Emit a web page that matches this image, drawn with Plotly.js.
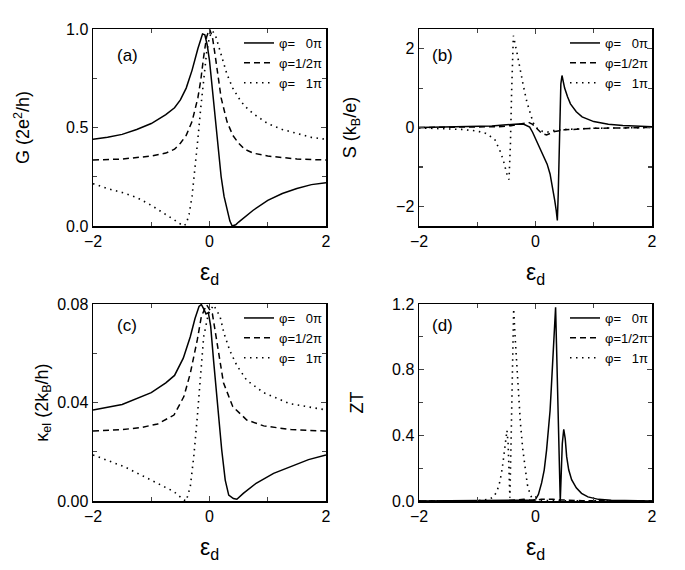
<!DOCTYPE html>
<html>
<head>
<meta charset="utf-8">
<script src="https://cdn.plot.ly/plotly-3.0.1.min.js"></script>
<style>
  body { margin: 0; background: #fff; }
  #chart { width: 685px; height: 570px; }
</style>
</head>
<body>
<div id="chart"></div>
<script>
// (a) conductance G
var gX0 = [-2, -1.75, -1.5, -1.25, -1, -0.75, -0.6, -0.5, -0.4, -0.3, -0.2, -0.15, -0.12, -0.08, -0.04, 0, 0.04, 0.08, 0.12, 0.16, 0.2, 0.25, 0.3, 0.35, 0.39, 0.45, 0.5, 0.6, 0.75, 1, 1.25, 1.5, 1.75, 2];
var gY0 = [0.44, 0.45, 0.465, 0.49, 0.52, 0.565, 0.60, 0.64, 0.70, 0.79, 0.90, 0.95, 0.975, 0.97, 0.92, 0.84, 0.72, 0.58, 0.46, 0.35, 0.25, 0.15, 0.08, 0.025, 0.0, 0.006, 0.02, 0.045, 0.08, 0.13, 0.165, 0.19, 0.21, 0.22];
var gX1 = [-2, -1.5, -1, -0.75, -0.6, -0.5, -0.4, -0.3, -0.2, -0.15, -0.1, -0.05, 0, 0.05, 0.1, 0.15, 0.2, 0.3, 0.4, 0.5, 0.6, 0.75, 1, 1.5, 2];
var gY1 = [0.335, 0.34, 0.355, 0.37, 0.39, 0.42, 0.46, 0.53, 0.65, 0.74, 0.86, 0.96, 1.0, 0.96, 0.86, 0.74, 0.65, 0.53, 0.46, 0.42, 0.39, 0.37, 0.355, 0.34, 0.335];
var gX2 = [-2, -1.75, -1.5, -1.25, -1, -0.75, -0.6, -0.5, -0.45, -0.4, -0.35, -0.3, -0.25, -0.2, -0.15, -0.1, -0.05, 0, 0.05, 0.1, 0.15, 0.2, 0.3, 0.4, 0.5, 0.6, 0.75, 1, 1.25, 1.5, 1.75, 2];
var gY2 = [0.215, 0.19, 0.17, 0.145, 0.105, 0.06, 0.03, 0.01, 0.0, 0.01, 0.06, 0.15, 0.28, 0.44, 0.6, 0.75, 0.88, 0.96, 0.99, 0.97, 0.92, 0.86, 0.77, 0.70, 0.65, 0.61, 0.57, 0.52, 0.49, 0.47, 0.45, 0.44];

// (b) thermopower S
var sX0 = [-2, -1.5, -1, -0.75, -0.5, -0.4, -0.3, -0.2, -0.1, -0.05, 0, 0.05, 0.1, 0.15, 0.2, 0.25, 0.3, 0.33, 0.355, 0.375, 0.39, 0.405, 0.42, 0.435, 0.455, 0.47, 0.5, 0.55, 0.6, 0.7, 0.8, 1, 1.25, 1.5, 2];
var sY0 = [0.0, 0.01, 0.02, 0.04, 0.07, 0.08, 0.09, 0.08, 0.01, -0.12, -0.28, -0.43, -0.58, -0.75, -0.93, -1.18, -1.55, -1.85, -2.1, -2.36, -1.7, -0.6, 0.4, 1.1, 1.32, 1.22, 1.0, 0.78, 0.6, 0.4, 0.27, 0.15, 0.08, 0.05, 0.02];
var sX1 = [-2, -1, -0.64, -0.4, -0.3, -0.2, -0.12, -0.05, 0, 0.05, 0.1, 0.19, 0.25, 0.33, 0.5, 0.75, 1, 1.5, 2];
var sY1 = [0.0, 0.01, 0.02, 0.05, 0.08, 0.11, 0.13, 0.08, 0.0, -0.08, -0.14, -0.19, -0.16, -0.1, -0.06, -0.04, -0.02, -0.01, 0.0];
var sX2 = [-2, -1.5, -1.25, -1, -0.85, -0.7, -0.61, -0.55, -0.51, -0.48, -0.455, -0.43, -0.41, -0.395, -0.38, -0.32, -0.27, -0.21, -0.15, -0.09, -0.04, 0, 0.05, 0.1, 0.2, 0.3, 0.5, 1, 2];
var sY2 = [-0.01, -0.03, -0.05, -0.09, -0.15, -0.3, -0.59, -0.84, -1.09, -1.25, -1.32, -0.4, 0.9, 1.8, 2.33, 1.91, 1.49, 1.07, 0.66, 0.33, 0.12, 0.02, -0.05, -0.09, -0.12, -0.08, -0.05, -0.02, 0.0];

// (c) thermal conductance kappa_el
var kX0 = [-2, -1.5, -1, -0.75, -0.6, -0.45, -0.33, -0.25, -0.18, -0.14, -0.1, -0.06, -0.02, 0.02, 0.07, 0.13, 0.21, 0.27, 0.33, 0.41, 0.47, 0.58, 0.8, 1.1, 1.4, 1.7, 2];
var kY0 = [0.037, 0.0392, 0.044, 0.048, 0.051, 0.058, 0.0667, 0.074, 0.079, 0.0798, 0.078, 0.076, 0.0765, 0.071, 0.057, 0.041, 0.0207, 0.0085, 0.0024, 0.001, 0.0007, 0.0031, 0.0072, 0.0112, 0.014, 0.0168, 0.0187];
var kX1 = [-2, -1.5, -1.18, -0.89, -0.61, -0.44, -0.33, -0.21, -0.14, -0.05, 0.05, 0.13, 0.24, 0.4, 0.64, 0.93, 1.4, 2];
var kY1 = [0.0284, 0.029, 0.0298, 0.0313, 0.0349, 0.0424, 0.0518, 0.0654, 0.0749, 0.0797, 0.076, 0.064, 0.048, 0.0383, 0.0329, 0.0305, 0.029, 0.0284];
var kX2 = [-2, -1.46, -1.18, -0.89, -0.61, -0.44, -0.4, -0.33, -0.27, -0.21, -0.15, -0.1, -0.02, 0.07, 0.18, 0.25, 0.35, 0.47, 0.64, 0.93, 1.38, 2];
var kY2 = [0.0187, 0.0139, 0.0106, 0.0072, 0.0038, 0.0004, 0.0, 0.0058, 0.018, 0.034, 0.052, 0.0667, 0.076, 0.0796, 0.075, 0.068, 0.061, 0.055, 0.049, 0.044, 0.0395, 0.037];

// (d) figure of merit ZT
var zX0 = [-2, -0.5, -0.05, 0, 0.05, 0.105, 0.15, 0.19, 0.22, 0.25, 0.27, 0.29, 0.32, 0.335, 0.345, 0.36, 0.38, 0.4, 0.415, 0.425, 0.44, 0.46, 0.485, 0.51, 0.535, 0.57, 0.62, 0.7, 0.79, 0.9, 1.08, 1.3, 2];
var zY0 = [0, 0.002, 0.005, 0.01, 0.04, 0.11, 0.19, 0.31, 0.42, 0.55, 0.68, 0.82, 1.06, 1.15, 1.18, 0.96, 0.66, 0.37, 0.15, 0.0, 0.15, 0.35, 0.437, 0.38, 0.27, 0.19, 0.13, 0.08, 0.047, 0.025, 0.01, 0.004, 0.0];
var zX1 = [-2, -0.5, -0.3, -0.2, -0.1, 0, 0.1, 0.2, 0.3, 0.45, 0.6, 0.8, 1.2, 2];
var zY1 = [0, 0.002, 0.008, 0.01, 0.006, 0.004, 0.01, 0.012, 0.01, 0.006, 0.004, 0.002, 0.001, 0];
var zX2 = [-2, -1, -0.8, -0.72, -0.66, -0.61, -0.57, -0.54, -0.51, -0.49, -0.47, -0.45, -0.44, -0.42, -0.4, -0.385, -0.375, -0.35, -0.32, -0.29, -0.26, -0.22, -0.18, -0.14, -0.1, -0.06, 0, 0.2, 0.5, 2];
var zY2 = [0, 0.002, 0.01, 0.025, 0.06, 0.12, 0.2, 0.29, 0.38, 0.43, 0.35, 0.12, 0.02, 0.35, 0.8, 1.1, 1.17, 1.0, 0.82, 0.64, 0.48, 0.32, 0.2, 0.1, 0.05, 0.015, 0.003, 0.002, 0.001, 0];

var seriesNames = ['\u03c6=\u00a0\u00a0\u00a00\u03c0', '\u03c6=1/2\u03c0', '\u03c6=\u00a0\u00a0\u00a01\u03c0'];
var dashes = ['solid', '6px,4px', '1.5px,4.5px'];

var font = 'Liberation Sans, Arial, sans-serif';

function lineTrace(x, y, i, xa, ya, leg) {
  return {
    x: x,
    y: y,
    xaxis: xa,
    yaxis: ya,
    legend: leg,
    name: seriesNames[i],
    mode: 'lines',
    type: 'scatter',
    line: {color: '#000', width: i == 2 ? 1.6 : 1.5, dash: dashes[i]}
  };
}

function xAxis(domain, anchor) {
  return {
    domain: domain,
    anchor: anchor,
    range: [-2, 2],
    tick0: -2,
    dtick: 2,
    ticks: 'inside',
    ticklen: 5,
    tickwidth: 1.2,
    minor: {dtick: 1, tick0: -2, ticks: 'inside', ticklen: 4, tickwidth: 1.2, showgrid: false},
    showline: true,
    linewidth: 1.5,
    linecolor: '#000',
    mirror: 'allticks',
    showgrid: false,
    zeroline: false,
    tickfont: {size: 16, color: '#000'},
    title: {text: '\u03b5<sub>d</sub>', font: {size: 23, color: '#000'}, standoff: 15}
  };
}

function yAxis(domain, anchor, range, step, fmt, title, standoff) {
  return {
    domain: domain,
    anchor: anchor,
    range: range,
    tick0: 0,
    dtick: step,
    tickformat: fmt,
    ticks: 'inside',
    ticklen: 5,
    tickwidth: 1.2,
    minor: {dtick: step / 2, tick0: 0, ticks: 'inside', ticklen: 4, tickwidth: 1.2, showgrid: false},
    showline: true,
    linewidth: 1.5,
    linecolor: '#000',
    mirror: 'allticks',
    showgrid: false,
    zeroline: false,
    tickfont: {size: 16, color: '#000'},
    title: {text: title, font: {size: 18, color: '#000'}, standoff: standoff}
  };
}

function legendBox(x, y) {
  return {
    x: x,
    y: y,
    xanchor: 'right',
    yanchor: 'top',
    bgcolor: 'rgba(0,0,0,0)',
    font: {size: 13, color: '#000'},
    tracegroupgap: 0,
    itemwidth: 30
  };
}

function panelLabel(text, x, y) {
  return {
    text: text,
    x: x,
    y: y,
    xref: 'paper',
    yref: 'paper',
    showarrow: false,
    font: {size: 17, color: '#000'}
  };
}

var traces = [
  lineTrace(gX0, gY0, 0, 'x', 'y', 'legend'),
  lineTrace(gX1, gY1, 1, 'x', 'y', 'legend'),
  lineTrace(gX2, gY2, 2, 'x', 'y', 'legend'),
  lineTrace(sX0, sY0, 0, 'x2', 'y2', 'legend2'),
  lineTrace(sX1, sY1, 1, 'x2', 'y2', 'legend2'),
  lineTrace(sX2, sY2, 2, 'x2', 'y2', 'legend2'),
  lineTrace(kX0, kY0, 0, 'x3', 'y3', 'legend3'),
  lineTrace(kX1, kY1, 1, 'x3', 'y3', 'legend3'),
  lineTrace(kX2, kY2, 2, 'x3', 'y3', 'legend3'),
  lineTrace(zX0, zY0, 0, 'x4', 'y4', 'legend4'),
  lineTrace(zX1, zY1, 1, 'x4', 'y4', 'legend4'),
  lineTrace(zX2, zY2, 2, 'x4', 'y4', 'legend4')
];

var leftCol = [93 / 685, 326 / 685];
var rightCol = [419 / 685, 652 / 685];
var topRow = [1 - 226 / 570, 1 - 29 / 570];
var botRow = [1 - 501 / 570, 1 - 304 / 570];

var layout = {
  width: 685,
  height: 570,
  margin: {l: 0, r: 0, t: 0, b: 0},
  paper_bgcolor: '#fff',
  plot_bgcolor: '#fff',
  font: {family: font, color: '#000'},
  showlegend: true,
  xaxis: xAxis(leftCol, 'y'),
  yaxis: yAxis(topRow, 'x', [0, 1], 0.5, '.1f', 'G (2e<sup>2</sup>/h)', 31),
  xaxis2: xAxis(rightCol, 'y2'),
  yaxis2: yAxis(topRow, 'x2', [-2.5, 2.5], 2, 'd', 'S (k<sub>B</sub>/e)', 34),
  xaxis3: xAxis(leftCol, 'y3'),
  yaxis3: yAxis(botRow, 'x3', [0, 0.08], 0.04, '.2f', '\u03ba<sub>el</sub> (2k<sub>B</sub>/h)', 4),
  xaxis4: xAxis(rightCol, 'y4'),
  yaxis4: yAxis(botRow, 'x4', [0, 1.2], 0.4, '.1f', 'ZT', 23),
  legend: legendBox(328 / 685, 1 - 28 / 570),
  legend2: legendBox(654 / 685, 1 - 28 / 570),
  legend3: legendBox(328 / 685, 1 - 303 / 570),
  legend4: legendBox(654 / 685, 1 - 303 / 570),
  annotations: [
    panelLabel('(a)', 115 / 685, 1 - 44 / 570),
    panelLabel('(b)', 442 / 685, 1 - 44 / 570),
    panelLabel('(c)', 115 / 685, 1 - 325 / 570),
    panelLabel('(d)', 442 / 685, 1 - 325 / 570)
  ]
};

Plotly.newPlot('chart', traces, layout, {displayModeBar: false, staticPlot: true});
</script>
</body>
</html>
